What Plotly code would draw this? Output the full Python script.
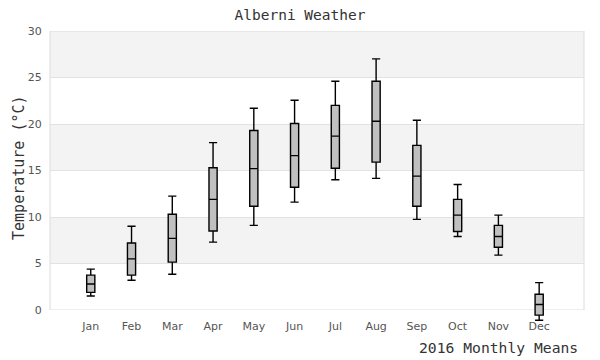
import plotly.graph_objects as go

months = ["Jan", "Feb", "Mar", "Apr", "May", "Jun", "Jul", "Aug", "Sep", "Oct", "Nov", "Dec"]
upper_whisker = [4.4, 9.0, 12.25, 18.0, 21.7, 22.55, 24.6, 27.0, 20.4, 13.5, 10.2, 2.95]
q3_values = [3.75, 7.2, 10.3, 15.3, 19.3, 20.05, 22.0, 24.6, 17.7, 11.9, 9.1, 1.7]
median_values = [2.8, 5.5, 7.7, 11.9, 15.2, 16.6, 18.7, 20.3, 14.4, 10.2, 7.9, 0.6]
q1_values = [1.9, 3.75, 5.15, 8.5, 11.15, 13.2, 15.25, 15.9, 11.15, 8.45, 6.75, -0.55]
lower_whisker = [1.5, 3.2, 3.85, 7.3, 9.1, 11.6, 14.0, 14.15, 9.75, 7.9, 5.9, -1.1]
y_ticks = [0, 5, 10, 15, 20, 25, 30]
band_ranges = [(5, 10), (15, 20), (25, 30)]

mono = "DejaVu Sans Mono"
sans = "DejaVu Sans"

fig = go.Figure()
fig.add_trace(go.Box(
    x=months,
    q1=q1_values, median=median_values, q3=q3_values,
    lowerfence=lower_whisker, upperfence=upper_whisker,
    xaxis="x2", yaxis="y2",
    fillcolor="#c0c0c0",
    line=dict(color="black", width=1.4),
    width=0.2, whiskerwidth=1,
    boxpoints=False, showlegend=False, hoverinfo="skip",
))

shapes = []
for lo, hi in band_ranges:
    shapes.append(dict(type="rect", xref="paper", yref="y", x0=0, x1=1, y0=lo, y1=hi,
                       fillcolor="#f3f3f3", line=dict(width=0), layer="below"))
shapes.append(dict(type="rect", xref="paper", yref="y", x0=0, x1=1, y0=y_ticks[0], y1=y_ticks[-1],
                   fillcolor="rgba(0,0,0,0)", line=dict(color="#dcdcdc", width=1), layer="below"))

fig.update_layout(
    width=600, height=360,
    margin=dict(l=50, r=16, t=31, b=30),
    paper_bgcolor="white", plot_bgcolor="rgba(0,0,0,0)",
    shapes=shapes,
    title=dict(text="Alberni Weather", x=0.5, xref="container", y=0.958, yanchor="middle",
               font=dict(family=mono, size=14.5, color="#333333")),
    xaxis=dict(domain=[0, 1], range=[-1, 12.1], tickmode="array",
               tickvals=list(range(len(months))), ticktext=months,
               showgrid=False, zeroline=False, showline=False,
               ticks="outside", ticklen=6, tickcolor="rgba(0,0,0,0)",
               tickfont=dict(family=sans, size=11, color="#555555"), fixedrange=True),
    yaxis=dict(domain=[0.0669, 1], range=[0, 30], tickmode="array", tickvals=y_ticks,
               showgrid=True, gridcolor="#e2e2e2", gridwidth=1, zeroline=False, showline=False,
               ticks="outside", ticklen=5, tickcolor="rgba(0,0,0,0)",
               tickfont=dict(family=sans, size=11, color="#555555"), fixedrange=True),
    xaxis2=dict(domain=[0, 1], range=[-1, 12.1], type="category", categoryorder="array",
                categoryarray=months, visible=False, anchor="y2", fixedrange=True),
    yaxis2=dict(domain=[0.0264, 1], range=[-1.3, 30], visible=False, anchor="x2",
                showgrid=False, fixedrange=True),
    annotations=[
        dict(text="2016 Monthly Means", xref="paper", yref="paper", x=0.993, y=-0.06,
             xanchor="right", yanchor="middle", showarrow=False,
             font=dict(family=mono, size=14.7, color="#333333")),
        dict(text="Temperature (°C)", xref="paper", yref="paper", x=-0.058, y=0.542,
             xanchor="center", yanchor="middle", textangle=-90, showarrow=False,
             font=dict(family=mono, size=15, color="#333333")),
    ],
)

fig.write_html("out.html", config={"displayModeBar": False},
               post_script="document.body.style.margin='0';")
